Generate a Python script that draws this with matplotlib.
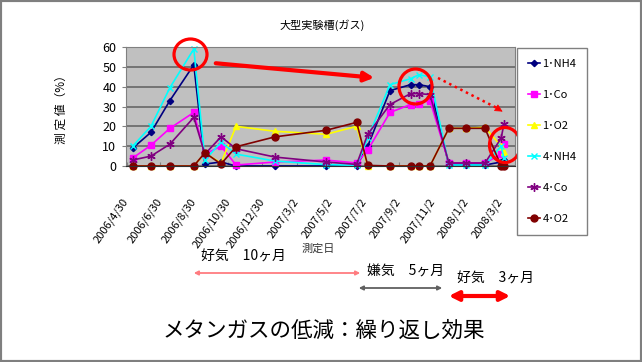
import matplotlib
matplotlib.use("Agg")
import matplotlib.pyplot as plt
import matplotlib.dates as mdates
from matplotlib.patches import Ellipse, FancyArrowPatch, Rectangle
from matplotlib.lines import Line2D
from datetime import date

plt.rcParams['font.family'] = ['Noto Sans CJK JP', 'DejaVu Sans']

# measurement dates
dates = [date(2006, 5, 11), date(2006, 6, 13), date(2006, 7, 17), date(2006, 8, 29),
         date(2006, 9, 18), date(2006, 10, 17), date(2006, 11, 13), date(2007, 1, 22),
         date(2007, 4, 24), date(2007, 6, 18), date(2007, 7, 8), date(2007, 8, 17),
         date(2007, 9, 23), date(2007, 10, 8), date(2007, 10, 28), date(2007, 12, 1),
         date(2007, 12, 31), date(2008, 2, 4), date(2008, 3, 4), date(2008, 3, 9)]

nh4_1 = [9, 17, 33, 51, 1, 2, 0, 0, 0, 0, 10, 38, 41, 41, 40, 0.5, 0.5, 0.5, 2, 3]
co_1 = [4, 10.5, 19, 27, 6, 10, 0.5, 2, 3, 1.5, 8, 27, 31, 31.5, 33, 1.5, 1.5, 1.5, 6, 11]
o2_1 = [0, 0, 0, 0, 6.5, 1.5, 20, 17.5, 16, 20, 0, 0, 0, 0, 0, 19, 19, 19.5, 10, 7]
nh4_4 = [10, 20, 39.5, 59, 3, 12, 6, 2.5, 0.7, 0.3, 14, 41, 44, 46, 45, 0.5, 0.5, 0.5, 10, 4]
co_4 = [3, 5, 11, 24.5, 6, 14.7, 8.7, 4.5, 2, 0.8, 16, 31, 36.5, 36.5, 36, 1.5, 1.5, 1.5, 14, 21]
o2_4 = [0, 0, 0, 0, 6.7, 1, 9.7, 14.7, 18, 22, 0.3, 0, 0, 0, 0, 19, 19, 19, 0, 0]

tick_dates = [date(2006, 4, 30), date(2006, 6, 30), date(2006, 8, 30), date(2006, 10, 30),
              date(2006, 12, 30), date(2007, 3, 2), date(2007, 5, 2), date(2007, 7, 2),
              date(2007, 9, 2), date(2007, 11, 2), date(2008, 1, 2), date(2008, 3, 2)]
tick_labels = ['2006/4/30', '2006/6/30', '2006/8/30', '2006/10/30', '2006/12/30', '2007/3/2',
               '2007/5/2', '2007/7/2', '2007/9/2', '2007/11/2', '2008/1/2', '2008/3/2']

W, H = 642, 362
fig = plt.figure(figsize=(W / 100, H / 100), dpi=100)

def fx(px):
    return px / W

def fy(py):
    return 1 - py / H

ax = fig.add_axes([fx(126), fy(166), fx(515) - fx(126), fy(47) - fy(166)])
ax.set_facecolor('#C0C0C0')

series = [
    (nh4_1, '1･NH4', '#000080', 'D', 3.2, 1),
    (co_1, '1･Co', '#FF00FF', 's', 5, 1),
    (o2_1, '1･O2', '#FFFF00', '^', 5, 1),
    (nh4_4, '4･NH4', '#00FFFF', 'x', 5, 1),
    (co_4, '4･Co', '#800080', (6, 2, 0), 6, 1),
    (o2_4, '4･O2', '#800000', 'o', 5, 1),
]
x = mdates.date2num(dates)
for vals, lab, col, mk, ms, mew in series:
    ax.plot(x, vals, color=col, lw=1.2, marker=mk, ms=ms, mew=mew,
            mfc=col, mec=col, label=lab, clip_on=False)

ax.set_ylim(0, 60)
ax.set_yticks(range(0, 61, 10))
ax.set_xlim(mdates.date2num(date(2006, 4, 29)), mdates.date2num(date(2008, 3, 29)))
ax.set_xticks(mdates.date2num(tick_dates))
ax.set_xticklabels(tick_labels, rotation=55, ha='right', va='center',
                   rotation_mode='anchor', fontsize=8)
ax.tick_params(axis='x', direction='in', length=3, color='#808080', pad=24)
ax.tick_params(axis='y', direction='out', length=3, color='#808080', pad=4, labelsize=9)
ax.grid(axis='y', color='#6E6E6E', lw=1.3)
ax.set_axisbelow(True)
for s in ['top', 'right']:
    ax.spines[s].set_color('#808080')
ax.spines['left'].set_color('#808080')
ax.spines['bottom'].set_color('#303030')

fig.text(fx(322), fy(25), '大型実験槽(ガス)', ha='center', va='center', fontsize=8)
fig.text(fx(318), fy(249), '測定日', ha='center', va='center', fontsize=8, color='#333333')
fig.text(fx(61), fy(107), '測 定 値（%）', ha='center', va='center', fontsize=8.5, rotation=90)

fig.legend(loc='upper left', bbox_to_anchor=(fx(517), fy(48)), fontsize=8,
           frameon=True, fancybox=False, edgecolor='#808080', framealpha=1,
           labelspacing=1.9, borderpad=0.95, handlelength=1.15, handletextpad=0.2,
           borderaxespad=0)

# red circles
for cx, cy, w, h in [(190.5, 54.5, 33, 31), (415.5, 86.5, 33, 35), (505, 145, 31, 35)]:
    fig.add_artist(Ellipse((fx(cx), fy(cy)), w / W, h / H, transform=fig.transFigure,
                           fill=False, edgecolor='#FF0000', lw=2.3))

# solid red arrow
fig.add_artist(FancyArrowPatch((fx(213), fy(63)), (fx(377), fy(78)), transform=fig.transFigure,
                               arrowstyle='-|>', mutation_scale=14, lw=3, color='#FF0000'))
# dotted red arrow
fig.add_artist(Line2D([fx(438), fx(497)], [fy(78), fy(108)], transform=fig.transFigure,
                      color='#FF0000', lw=1.8, linestyle=(0, (1, 1.5))))
fig.add_artist(FancyArrowPatch((fx(494), fy(106.5)), (fx(505), fy(113)), transform=fig.transFigure,
                               arrowstyle='-|>', mutation_scale=12, lw=0.5, color='#FF0000'))

# period annotations
fig.text(fx(201), fy(257), '好気　10ヶ月', ha='left', va='center', fontsize=10)
fig.add_artist(FancyArrowPatch((fx(191), fy(273)), (fx(363), fy(273)), transform=fig.transFigure,
                               arrowstyle='<|-|>', mutation_scale=6, lw=1.3, color='#FF7C80'))
fig.text(fx(367), fy(272), '嫌気　5ヶ月', ha='left', va='center', fontsize=10)
fig.add_artist(FancyArrowPatch((fx(356), fy(288)), (fx(445), fy(288)), transform=fig.transFigure,
                               arrowstyle='<|-|>', mutation_scale=6, lw=1.3, color='#606060'))
fig.text(fx(457), fy(279), '好気　3ヶ月', ha='left', va='center', fontsize=10)
fig.add_artist(FancyArrowPatch((fx(446), fy(296)), (fx(513), fy(296)), transform=fig.transFigure,
                               arrowstyle='<|-|>', mutation_scale=14, lw=3, color='#FF0000'))

fig.text(fx(324), fy(331), 'メタンガスの低減：繰り返し効果', ha='center', va='center', fontsize=15.5)

fig.add_artist(Rectangle((0, 0), 1, 1, transform=fig.transFigure, fill=False,
                         edgecolor='#7F7F7F', lw=3))

fig.savefig('out.png', dpi=100)
